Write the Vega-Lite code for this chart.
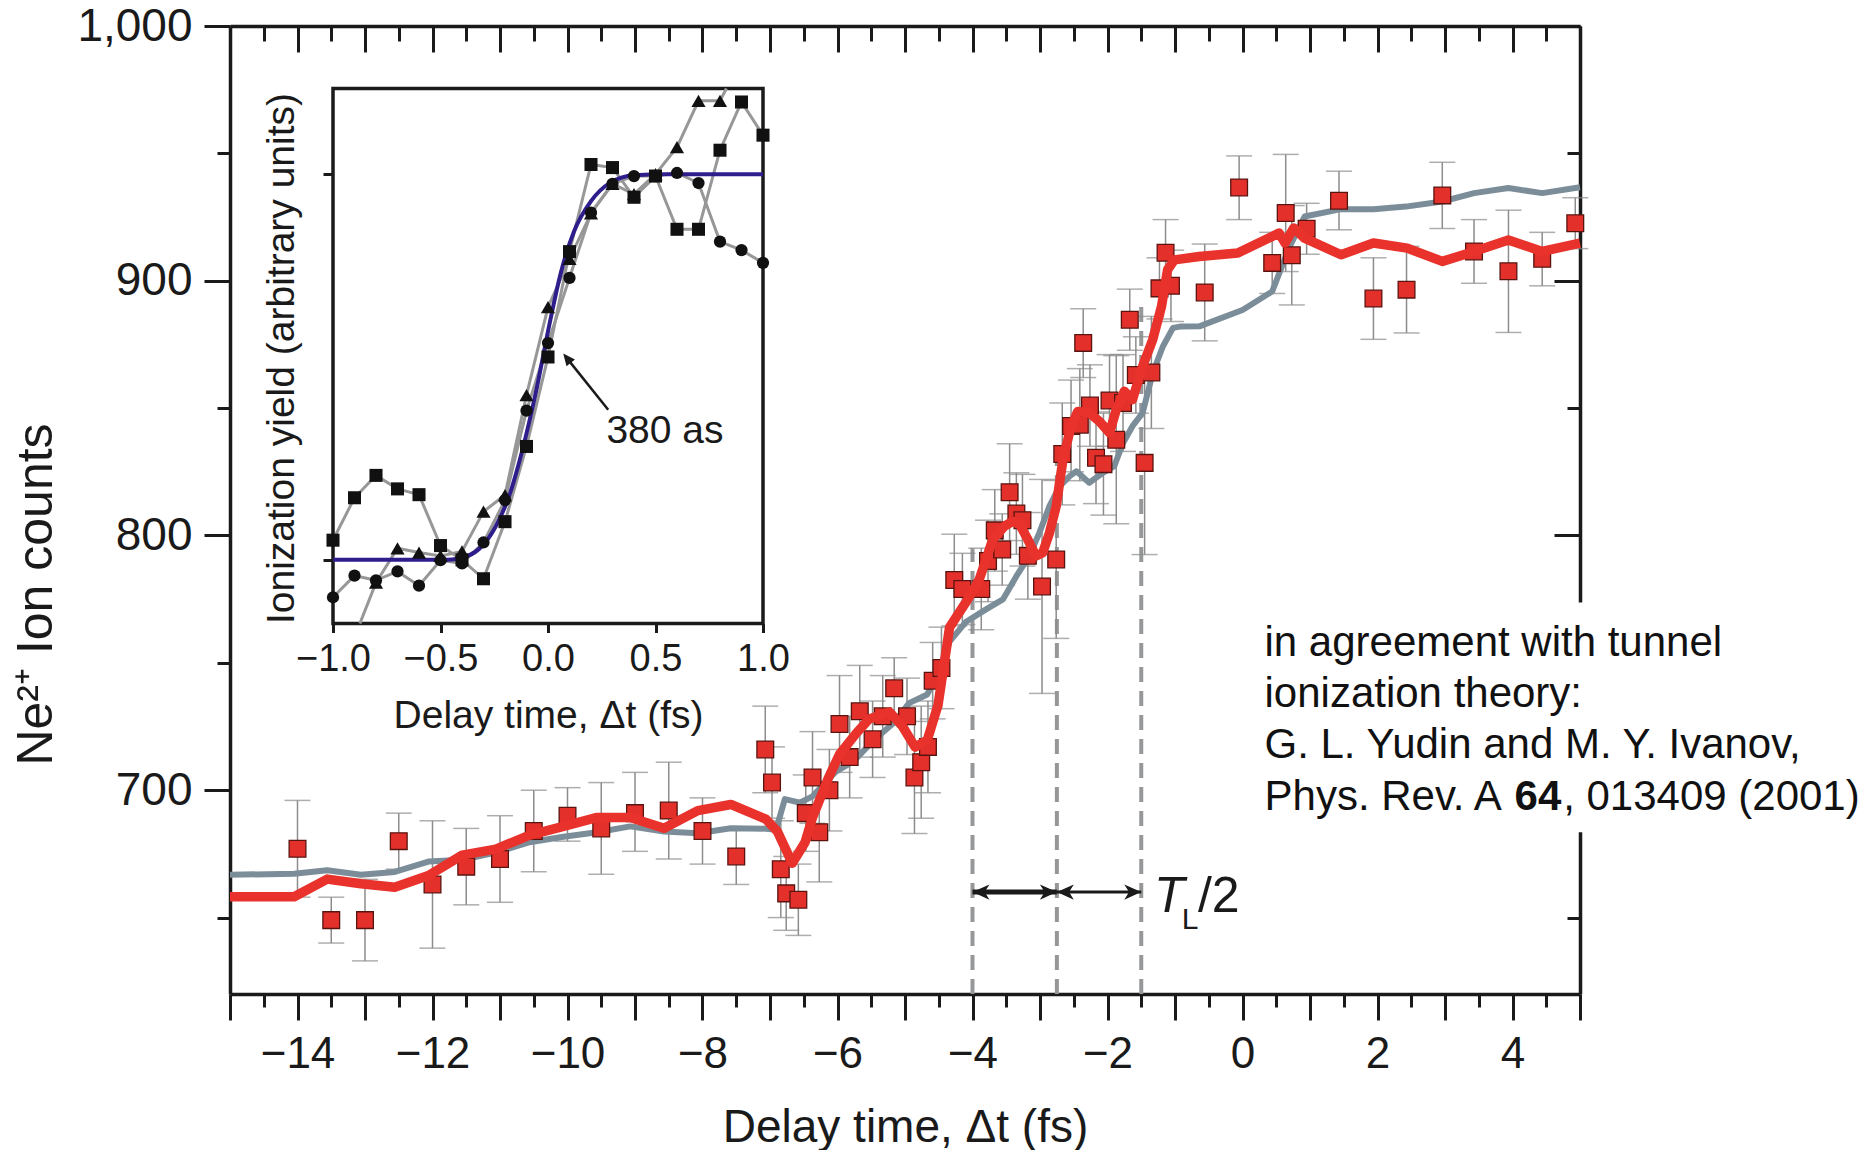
{
  "$schema": "https://vega.github.io/schema/vega-lite/v6.json",
  "width": 1350,
  "height": 968,
  "autosize": {"type": "none"},
  "padding": {"left": 230, "top": 26, "right": 293, "bottom": 156},
  "background": "white",
  "config": {
    "view": {"stroke": null},
    "font": "Liberation Sans",
    "axis": {"grid": false, "labelFont": "Liberation Sans", "titleFont": "Liberation Sans", "labelColor": "#1a1a1a", "titleColor": "#1a1a1a", "titleFontWeight": "normal", "tickColor": "#1a1a1a", "domainColor": "#1a1a1a", "labelOverlap": false, "labelFlush": false, "labelBound": false}
  },
  "datasets": {
    "pts": [
      {"x": -14, "y": 677, "lo": 658, "hi": 696},
      {"x": -13.5, "y": 649, "lo": 640, "hi": 658},
      {"x": -13, "y": 649, "lo": 633, "hi": 665},
      {"x": -12.5, "y": 680, "lo": 669, "hi": 691},
      {"x": -12, "y": 663, "lo": 638, "hi": 688},
      {"x": -11.5, "y": 670, "lo": 655, "hi": 685},
      {"x": -11, "y": 673, "lo": 656, "hi": 690},
      {"x": -10.5, "y": 684, "lo": 668, "hi": 700},
      {"x": -10, "y": 690, "lo": 680, "hi": 701},
      {"x": -9.5, "y": 685, "lo": 667, "hi": 703},
      {"x": -9, "y": 691, "lo": 676, "hi": 707},
      {"x": -8.5, "y": 692, "lo": 673, "hi": 711},
      {"x": -8, "y": 684, "lo": 671, "hi": 697},
      {"x": -7.5, "y": 674, "lo": 663, "hi": 685},
      {"x": -7.07, "y": 716, "lo": 699, "hi": 733},
      {"x": -6.97, "y": 703, "lo": 689, "hi": 717},
      {"x": -6.84, "y": 669, "lo": 650, "hi": 688},
      {"x": -6.76, "y": 659.5, "lo": 645, "hi": 674},
      {"x": -6.58, "y": 657, "lo": 643, "hi": 671},
      {"x": -6.47, "y": 691, "lo": 676, "hi": 706},
      {"x": -6.37, "y": 705, "lo": 687, "hi": 723},
      {"x": -6.27, "y": 683.5, "lo": 664, "hi": 703},
      {"x": -6.12, "y": 700, "lo": 684, "hi": 716},
      {"x": -5.97, "y": 726, "lo": 707, "hi": 745},
      {"x": -5.82, "y": 713, "lo": 697, "hi": 729},
      {"x": -5.67, "y": 731, "lo": 713, "hi": 749},
      {"x": -5.48, "y": 720, "lo": 705, "hi": 735},
      {"x": -5.33, "y": 729, "lo": 713, "hi": 745},
      {"x": -5.16, "y": 740, "lo": 728, "hi": 752},
      {"x": -4.97, "y": 729, "lo": 714, "hi": 744},
      {"x": -4.86, "y": 705, "lo": 683, "hi": 727},
      {"x": -4.76, "y": 711, "lo": 689, "hi": 733},
      {"x": -4.66, "y": 717, "lo": 699, "hi": 735},
      {"x": -4.59, "y": 743, "lo": 728, "hi": 758},
      {"x": -4.46, "y": 748, "lo": 732, "hi": 764},
      {"x": -4.27, "y": 782.5, "lo": 764.5, "hi": 800.5},
      {"x": -4.15, "y": 779, "lo": 765, "hi": 793},
      {"x": -3.87, "y": 779, "lo": 763, "hi": 795},
      {"x": -3.77, "y": 790, "lo": 774, "hi": 806},
      {"x": -3.67, "y": 802, "lo": 786, "hi": 818},
      {"x": -3.56, "y": 794.5, "lo": 780.5, "hi": 808.5},
      {"x": -3.45, "y": 817, "lo": 798, "hi": 836},
      {"x": -3.35, "y": 808.6, "lo": 792.6, "hi": 824.6},
      {"x": -3.26, "y": 806, "lo": 788, "hi": 824},
      {"x": -3.18, "y": 792, "lo": 775, "hi": 809},
      {"x": -2.97, "y": 780, "lo": 738, "hi": 822},
      {"x": -2.76, "y": 790.6, "lo": 759.6, "hi": 821.6},
      {"x": -2.67, "y": 832, "lo": 812, "hi": 852},
      {"x": -2.54, "y": 843, "lo": 825, "hi": 861},
      {"x": -2.41, "y": 843.5, "lo": 821.5, "hi": 865.5},
      {"x": -2.36, "y": 875.6, "lo": 862, "hi": 889},
      {"x": -2.26, "y": 851, "lo": 835, "hi": 867},
      {"x": -2.17, "y": 830.5, "lo": 812.5, "hi": 848.5},
      {"x": -2.06, "y": 828, "lo": 808, "hi": 848},
      {"x": -1.97, "y": 853, "lo": 835, "hi": 871},
      {"x": -1.87, "y": 837.6, "lo": 804.6, "hi": 870.6},
      {"x": -1.77, "y": 852, "lo": 833, "hi": 871},
      {"x": -1.67, "y": 884.7, "lo": 872.7, "hi": 896.7},
      {"x": -1.58, "y": 863, "lo": 848, "hi": 878},
      {"x": -1.45, "y": 828.5, "lo": 792.5, "hi": 864.5},
      {"x": -1.35, "y": 864, "lo": 842, "hi": 886},
      {"x": -1.23, "y": 897, "lo": 885, "hi": 909},
      {"x": -1.14, "y": 911, "lo": 898, "hi": 924},
      {"x": -1.06, "y": 898, "lo": 884, "hi": 912},
      {"x": -0.56, "y": 895.4, "lo": 876.4, "hi": 914.4},
      {"x": -0.05, "y": 936.6, "lo": 924, "hi": 949},
      {"x": 0.44, "y": 907, "lo": 895, "hi": 919},
      {"x": 0.64, "y": 926.6, "lo": 903.6, "hi": 949.6},
      {"x": 0.73, "y": 910, "lo": 890.5, "hi": 929.5},
      {"x": 0.95, "y": 920.4, "lo": 910.4, "hi": 930.4},
      {"x": 1.43, "y": 931.4, "lo": 920, "hi": 943},
      {"x": 1.94, "y": 893, "lo": 877, "hi": 909},
      {"x": 2.43, "y": 896.5, "lo": 879.5, "hi": 913.5},
      {"x": 2.96, "y": 933.5, "lo": 920.5, "hi": 946.5},
      {"x": 3.43, "y": 911.5, "lo": 899, "hi": 924},
      {"x": 3.94, "y": 903.7, "lo": 879.7, "hi": 927.7},
      {"x": 4.44, "y": 908.6, "lo": 898, "hi": 919},
      {"x": 4.93, "y": 922.6, "lo": 912.6, "hi": 932.6}
    ],
    "red": [
      {"x": -15, "y": 658.2}, {"x": -14.05, "y": 658.2}, {"x": -13.56, "y": 665.1}, {"x": -13.06, "y": 663.3},
      {"x": -12.56, "y": 661.9}, {"x": -12.06, "y": 666.5}, {"x": -11.56, "y": 674.5}, {"x": -11.06, "y": 676.9},
      {"x": -10.56, "y": 682.4}, {"x": -10.06, "y": 685.8}, {"x": -9.56, "y": 689.3}, {"x": -9.07, "y": 689.3},
      {"x": -8.57, "y": 685.1}, {"x": -8.07, "y": 692}, {"x": -7.58, "y": 694.4}, {"x": -7.06, "y": 688.6},
      {"x": -6.89, "y": 683.8}, {"x": -6.67, "y": 671.3}, {"x": -6.48, "y": 679.6}, {"x": -6.37, "y": 689.3},
      {"x": -6.14, "y": 704.5}, {"x": -5.97, "y": 714.1}, {"x": -5.72, "y": 722.4}, {"x": -5.53, "y": 728},
      {"x": -5.23, "y": 730.7}, {"x": -5.04, "y": 725.2}, {"x": -4.85, "y": 716.9}, {"x": -4.67, "y": 719.7},
      {"x": -4.51, "y": 733.5}, {"x": -4.34, "y": 763.9}, {"x": -4.07, "y": 774.9}, {"x": -3.9, "y": 782.7},
      {"x": -3.7, "y": 798.4}, {"x": -3.53, "y": 803.6}, {"x": -3.4, "y": 805.6}, {"x": -3.3, "y": 804.3},
      {"x": -3.18, "y": 798.4}, {"x": -3.06, "y": 791.9}, {"x": -2.96, "y": 793.2}, {"x": -2.86, "y": 801},
      {"x": -2.76, "y": 811.5}, {"x": -2.66, "y": 829.8}, {"x": -2.54, "y": 842.9}, {"x": -2.44, "y": 848.7},
      {"x": -2.27, "y": 848.1}, {"x": -2.12, "y": 844.8}, {"x": -1.97, "y": 840.3}, {"x": -1.87, "y": 849.4},
      {"x": -1.75, "y": 856.6}, {"x": -1.63, "y": 853.3}, {"x": -1.48, "y": 866.4}, {"x": -1.33, "y": 876.9},
      {"x": -1.2, "y": 889.9}, {"x": -1.11, "y": 904.3}, {"x": -1.01, "y": 908.2}, {"x": -0.64, "y": 909.5},
      {"x": -0.07, "y": 910.9}, {"x": 0.54, "y": 918.7}, {"x": 0.63, "y": 914.8}, {"x": 0.76, "y": 920.7},
      {"x": 0.92, "y": 916.7}, {"x": 1.46, "y": 910.2}, {"x": 1.94, "y": 914.8}, {"x": 2.44, "y": 912.8},
      {"x": 2.96, "y": 907.6}, {"x": 3.43, "y": 911.5}, {"x": 3.94, "y": 916}, {"x": 4.44, "y": 911.5},
      {"x": 5.0, "y": 914.8}
    ],
    "gray": [
      {"x": -15, "y": 666.8}, {"x": -14.05, "y": 667.2}, {"x": -13.56, "y": 668.6}, {"x": -13.06, "y": 666.8},
      {"x": -12.56, "y": 667.9}, {"x": -12.06, "y": 672}, {"x": -11.56, "y": 672.7}, {"x": -11.06, "y": 675.5},
      {"x": -10.56, "y": 679.6}, {"x": -10.06, "y": 681.7}, {"x": -9.56, "y": 683.5}, {"x": -9.07, "y": 685.8},
      {"x": -8.57, "y": 683.8}, {"x": -8.07, "y": 683.1}, {"x": -7.58, "y": 685.1}, {"x": -7.06, "y": 684.9},
      {"x": -6.91, "y": 684.5}, {"x": -6.78, "y": 696.5}, {"x": -6.56, "y": 695.1}, {"x": -6.37, "y": 697.6},
      {"x": -6.03, "y": 707.2}, {"x": -5.76, "y": 711.4}, {"x": -5.46, "y": 719.7}, {"x": -5.16, "y": 726.6},
      {"x": -4.94, "y": 734.2}, {"x": -4.67, "y": 737.6}, {"x": -4.51, "y": 745.9}, {"x": -4.34, "y": 758.3},
      {"x": -4.1, "y": 766}, {"x": -3.8, "y": 771}, {"x": -3.55, "y": 774.9}, {"x": -3.35, "y": 784},
      {"x": -3.16, "y": 791.9}, {"x": -3.01, "y": 801}, {"x": -2.86, "y": 811.5}, {"x": -2.71, "y": 819.3},
      {"x": -2.56, "y": 823.3}, {"x": -2.46, "y": 825.2}, {"x": -2.27, "y": 820.7}, {"x": -2.07, "y": 824.6},
      {"x": -1.9, "y": 827.2}, {"x": -1.77, "y": 836.3}, {"x": -1.63, "y": 842.9}, {"x": -1.48, "y": 848.1},
      {"x": -1.33, "y": 863.8}, {"x": -1.18, "y": 874.2}, {"x": -1.03, "y": 881.5}, {"x": -0.93, "y": 882},
      {"x": -0.64, "y": 882.1}, {"x": 0.0, "y": 888.5}, {"x": 0.44, "y": 895.8}, {"x": 0.7, "y": 913.5},
      {"x": 0.92, "y": 925.2}, {"x": 1.46, "y": 928.1}, {"x": 1.94, "y": 928.1}, {"x": 2.42, "y": 929.1},
      {"x": 2.96, "y": 931.1}, {"x": 3.43, "y": 934.4}, {"x": 3.94, "y": 936.4}, {"x": 4.44, "y": 934.4},
      {"x": 5.0, "y": 936.7}
    ],
    "dash": [
      {"x": -4, "y0": 620, "y1": 795},
      {"x": -2.75, "y0": 620, "y1": 835},
      {"x": -1.5, "y0": 620, "y1": 890}
    ],
    "arrows": [
      {"a": 1, "x0": -4, "x1": -2.75, "y": 660},
      {"a": 2, "x0": -2.75, "x1": -1.5, "y": 660}
    ],
    "heads": [
      {"x": -4, "y": 660, "d": "L"},
      {"x": -2.75, "y": 660, "d": "R"},
      {"x": -2.75, "y": 660, "d": "L"},
      {"x": -1.5, "y": 660, "d": "R"}
    ],
    "box": [{"x0": 0.18, "x1": 9.5, "y0": 683.5, "y1": 773.7}],
    "note": [
      {"t": "in agreement with tunnel", "x": 0.326, "y": 752.7},
      {"t": "ionization theory:", "x": 0.326, "y": 732.5},
      {"t": "G. L. Yudin and M. Y. Ivanov,", "x": 0.326, "y": 712.5},
      {"t": "Phys. Rev. A", "x": 0.326, "y": 692.3},
      {"t": ", 013409 (2001)", "x": 4.75, "y": 692.3}
    ],
    "bold": [{"t": "64", "x": 4.03, "y": 692.3}],
    "tbig": [{"t": "/2", "x": -0.66, "y": 652.2}],
    "tital": [{"t": "T", "x": -1.31, "y": 652.2}],
    "tsub": [{"t": "L", "x": -0.9, "y": 645.5}],
    "iframe": [{"x0": -1, "x1": 1, "y0": -0.165, "y1": 1.222}],
    "inset": [
      {"s": "sq", "x": -1.0, "y": 0.051}, {"s": "sq", "x": -0.9, "y": 0.161}, {"s": "sq", "x": -0.8, "y": 0.219},
      {"s": "sq", "x": -0.7, "y": 0.184}, {"s": "sq", "x": -0.6, "y": 0.169}, {"s": "sq", "x": -0.5, "y": 0.037},
      {"s": "sq", "x": -0.4, "y": 0.0}, {"s": "sq", "x": -0.3, "y": -0.049}, {"s": "sq", "x": -0.2, "y": 0.099},
      {"s": "sq", "x": -0.1, "y": 0.294}, {"s": "sq", "x": 0.0, "y": 0.526}, {"s": "sq", "x": 0.1, "y": 0.799},
      {"s": "sq", "x": 0.2, "y": 1.025}, {"s": "sq", "x": 0.3, "y": 1.017}, {"s": "sq", "x": 0.4, "y": 0.94},
      {"s": "sq", "x": 0.5, "y": 0.995}, {"s": "sq", "x": 0.6, "y": 0.857}, {"s": "sq", "x": 0.7, "y": 0.857},
      {"s": "sq", "x": 0.8, "y": 1.062}, {"s": "sq", "x": 0.9, "y": 1.187}, {"s": "sq", "x": 1.0, "y": 1.101},
      {"s": "tri", "x": -0.875, "y": -0.165, "edge": true},
      {"s": "tri", "x": -0.8, "y": -0.059}, {"s": "tri", "x": -0.7, "y": 0.03}, {"s": "tri", "x": -0.6, "y": 0.019},
      {"s": "tri", "x": -0.5, "y": 0.01}, {"s": "tri", "x": -0.4, "y": 0.022}, {"s": "tri", "x": -0.3, "y": 0.125},
      {"s": "tri", "x": -0.2, "y": 0.168}, {"s": "tri", "x": -0.1, "y": 0.427}, {"s": "tri", "x": 0.0, "y": 0.655},
      {"s": "tri", "x": 0.1, "y": 0.78}, {"s": "tri", "x": 0.2, "y": 0.898}, {"s": "tri", "x": 0.3, "y": 0.975},
      {"s": "tri", "x": 0.4, "y": 0.948}, {"s": "tri", "x": 0.5, "y": 1.0}, {"s": "tri", "x": 0.6, "y": 1.07},
      {"s": "tri", "x": 0.7, "y": 1.19}, {"s": "tri", "x": 0.8, "y": 1.19},
      {"s": "tri", "x": 0.83, "y": 1.222, "edge": true},
      {"s": "cir", "x": -1.0, "y": -0.097}, {"s": "cir", "x": -0.9, "y": -0.041}, {"s": "cir", "x": -0.8, "y": -0.053},
      {"s": "cir", "x": -0.7, "y": -0.03}, {"s": "cir", "x": -0.6, "y": -0.067}, {"s": "cir", "x": -0.5, "y": -0.001},
      {"s": "cir", "x": -0.4, "y": -0.009}, {"s": "cir", "x": -0.3, "y": 0.045}, {"s": "cir", "x": -0.2, "y": 0.155},
      {"s": "cir", "x": -0.1, "y": 0.387}, {"s": "cir", "x": 0.0, "y": 0.562}, {"s": "cir", "x": 0.1, "y": 0.731},
      {"s": "cir", "x": 0.2, "y": 0.9}, {"s": "cir", "x": 0.3, "y": 0.975}, {"s": "cir", "x": 0.4, "y": 0.995},
      {"s": "cir", "x": 0.5, "y": 0.995}, {"s": "cir", "x": 0.6, "y": 1.003}, {"s": "cir", "x": 0.7, "y": 0.977},
      {"s": "cir", "x": 0.8, "y": 0.825}, {"s": "cir", "x": 0.9, "y": 0.803}, {"s": "cir", "x": 1.0, "y": 0.77}
    ],
    "fit": [
      {"x": -1.0, "y": 0}, {"x": -0.47, "y": 0}, {"x": -0.37, "y": 0.011}, {"x": -0.31, "y": 0.034},
      {"x": -0.244, "y": 0.086}, {"x": -0.18, "y": 0.167}, {"x": -0.12, "y": 0.283}, {"x": -0.057, "y": 0.433},
      {"x": 0.005, "y": 0.606}, {"x": 0.06, "y": 0.745}, {"x": 0.12, "y": 0.85}, {"x": 0.2, "y": 0.93},
      {"x": 0.29, "y": 0.978}, {"x": 0.4, "y": 0.997}, {"x": 0.55, "y": 1.0}, {"x": 1.0, "y": 1.0}
    ],
    "iarrow": [{"x0": 0.28, "y0": 0.389, "x1": 0.085, "y1": 0.525}],
    "ihead": [{"x": 0.071, "y": 0.535}],
    "itext": [{"t": "380 as", "x": 0.544, "y": 0.302}]
  },
  "layer": [
    {
      "data": {"name": "dash"},
      "mark": {"type": "rule", "color": "#959799", "strokeWidth": 4, "strokeDash": [15, 9]},
      "encoding": {
        "x": {"field": "x", "type": "quantitative", "scale": {"domain": [-15, 5], "nice": false, "zero": false}, "axis": null},
        "y": {"field": "y0", "type": "quantitative", "scale": {"domain": [620, 1000], "nice": false, "zero": false}, "axis": null},
        "y2": {"field": "y1"}
      }
    },
    {
      "data": {"name": "pts"},
      "mark": {"type": "rule", "color": "#8c8c8c", "strokeWidth": 1.5},
      "encoding": {
        "x": {"field": "x", "type": "quantitative", "scale": {"domain": [-15, 5], "nice": false, "zero": false},
          "axis": {"orient": "bottom", "values": [-15,-14,-13,-12,-11,-10,-9,-8,-7,-6,-5,-4,-3,-2,-1,0,1,2,3,4,5], "format": "d",
            "labelExpr": "datum.value % 2 === 0 ? datum.label : ''", "tickSize": 26, "tickWidth": 3, "domain": true, "domainWidth": 3.5,
            "labelFontSize": 44, "labelPadding": 12, "title": "Delay time, Δt (fs)", "titleFontSize": 46, "titleY": 147, "titleBaseline": "alphabetic"}},
        "y": {"field": "lo", "type": "quantitative", "scale": {"domain": [620, 1000], "nice": false, "zero": false},
          "axis": {"orient": "left", "values": [700, 800, 900, 1000], "format": ",d", "tickSize": 26, "tickWidth": 3, "domain": true, "domainWidth": 3.5,
            "labelFontSize": 46, "labelPadding": 12, "title": "Ne²⁺ Ion counts", "titleFontSize": 50, "titleX": -194, "titleY": 568,
            "titleAngle": 270, "titleAlign": "center", "titleBaseline": "middle"}},
        "y2": {"field": "hi"}
      }
    },
    {
      "data": {"name": "pts"},
      "mark": {"type": "tick", "orient": "horizontal", "color": "#8c8c8c", "size": 26, "thickness": 1.5},
      "encoding": {
        "x": {"field": "x", "type": "quantitative", "scale": {"domain": [-15, 5], "nice": false, "zero": false},
          "axis": {"orient": "bottom", "values": [-14.5,-13.5,-12.5,-11.5,-10.5,-9.5,-8.5,-7.5,-6.5,-5.5,-4.5,-3.5,-2.5,-1.5,-0.5,0.5,1.5,2.5,3.5,4.5],
            "tickSize": 13, "tickWidth": 3, "domain": false, "labels": false, "title": null}},
        "y": {"field": "lo", "type": "quantitative", "scale": {"domain": [620, 1000], "nice": false, "zero": false},
          "axis": {"orient": "left", "values": [650, 750, 850, 950], "tickSize": 13, "tickWidth": 3, "domain": false, "labels": false, "title": null}}
      }
    },
    {
      "data": {"name": "pts"},
      "mark": {"type": "tick", "orient": "horizontal", "color": "#8c8c8c", "size": 26, "thickness": 1.5},
      "encoding": {
        "x": {"field": "x", "type": "quantitative", "scale": {"domain": [-15, 5], "nice": false, "zero": false},
          "axis": {"orient": "bottom", "offset": -968, "values": [-15,-14,-13,-12,-11,-10,-9,-8,-7,-6,-5,-4,-3,-2,-1,0,1,2,3,4,5],
            "tickSize": 26, "tickWidth": 3, "domain": true, "domainWidth": 3.5, "labels": false, "title": null}},
        "y": {"field": "hi", "type": "quantitative", "scale": {"domain": [620, 1000], "nice": false, "zero": false},
          "axis": {"orient": "left", "offset": -1350, "values": [700, 800, 900, 1000], "tickSize": 26, "tickWidth": 3, "domain": true, "domainWidth": 3.5, "labels": false, "title": null}}
      }
    },
    {
      "data": {"name": "gray"},
      "mark": {"type": "line", "color": "#7b8d99", "strokeWidth": 6, "strokeJoin": "round"},
      "encoding": {
        "x": {"field": "x", "type": "quantitative", "scale": {"domain": [-15, 5], "nice": false, "zero": false},
          "axis": {"orient": "bottom", "offset": -968, "values": [-14.5,-13.5,-12.5,-11.5,-10.5,-9.5,-8.5,-7.5,-6.5,-5.5,-4.5,-3.5,-2.5,-1.5,-0.5,0.5,1.5,2.5,3.5,4.5],
            "tickSize": 15, "tickWidth": 3, "domain": false, "labels": false, "title": null}},
        "y": {"field": "y", "type": "quantitative", "scale": {"domain": [620, 1000], "nice": false, "zero": false},
          "axis": {"orient": "left", "offset": -1350, "values": [650, 750, 850, 950], "tickSize": 13, "tickWidth": 3, "domain": false, "labels": false, "title": null}}
      }
    },
    {
      "data": {"name": "pts"},
      "mark": {"type": "point", "shape": "square", "size": 280, "filled": true, "fill": "#e3302a", "stroke": "#5a1410", "strokeWidth": 1.3, "opacity": 1},
      "encoding": {
        "x": {"field": "x", "type": "quantitative", "scale": {"domain": [-15, 5], "nice": false, "zero": false}, "axis": null},
        "y": {"field": "y", "type": "quantitative", "scale": {"domain": [620, 1000], "nice": false, "zero": false}, "axis": null}
      }
    },
    {
      "data": {"name": "red"},
      "mark": {"type": "line", "color": "#e8322b", "strokeWidth": 9.5, "strokeJoin": "round"},
      "encoding": {
        "x": {"field": "x", "type": "quantitative", "scale": {"domain": [-15, 5], "nice": false, "zero": false}, "axis": null},
        "y": {"field": "y", "type": "quantitative", "scale": {"domain": [620, 1000], "nice": false, "zero": false}, "axis": null}
      }
    },
    {
      "data": {"name": "arrows"},
      "transform": [{"filter": "datum.a == 1"}],
      "mark": {"type": "rule", "color": "#1a1a1a", "strokeWidth": 5},
      "encoding": {
        "x": {"field": "x0", "type": "quantitative", "scale": {"domain": [-15, 5], "nice": false, "zero": false}, "axis": null},
        "x2": {"field": "x1"},
        "y": {"field": "y", "type": "quantitative", "scale": {"domain": [620, 1000], "nice": false, "zero": false}, "axis": null}
      }
    },
    {
      "data": {"name": "arrows"},
      "transform": [{"filter": "datum.a == 2"}],
      "mark": {"type": "rule", "color": "#1a1a1a", "strokeWidth": 3},
      "encoding": {
        "x": {"field": "x0", "type": "quantitative", "scale": {"domain": [-15, 5], "nice": false, "zero": false}, "axis": null},
        "x2": {"field": "x1"},
        "y": {"field": "y", "type": "quantitative", "scale": {"domain": [620, 1000], "nice": false, "zero": false}, "axis": null}
      }
    },
    {
      "data": {"name": "heads"},
      "transform": [{"filter": "datum.d == 'R'"}],
      "mark": {"type": "point", "shape": "M0,0 L-1,-0.45 L-0.72,0 L-1,0.45 Z", "size": 1150, "filled": true, "color": "#1a1a1a", "opacity": 1, "angle": 0},
      "encoding": {
        "x": {"field": "x", "type": "quantitative", "scale": {"domain": [-15, 5], "nice": false, "zero": false}, "axis": null},
        "y": {"field": "y", "type": "quantitative", "scale": {"domain": [620, 1000], "nice": false, "zero": false}, "axis": null}
      }
    },
    {
      "data": {"name": "heads"},
      "transform": [{"filter": "datum.d == 'L'"}],
      "mark": {"type": "point", "shape": "M0,0 L-1,-0.45 L-0.72,0 L-1,0.45 Z", "size": 1150, "filled": true, "color": "#1a1a1a", "opacity": 1, "angle": 180},
      "encoding": {
        "x": {"field": "x", "type": "quantitative", "scale": {"domain": [-15, 5], "nice": false, "zero": false}, "axis": null},
        "y": {"field": "y", "type": "quantitative", "scale": {"domain": [620, 1000], "nice": false, "zero": false}, "axis": null}
      }
    },
    {
      "data": {"name": "tital"},
      "mark": {"type": "text", "fontSize": 50, "fontStyle": "italic", "align": "left", "baseline": "alphabetic", "color": "#1a1a1a", "font": "Liberation Sans"},
      "encoding": {
        "x": {"field": "x", "type": "quantitative", "scale": {"domain": [-15, 5], "nice": false, "zero": false}, "axis": null},
        "y": {"field": "y", "type": "quantitative", "scale": {"domain": [620, 1000], "nice": false, "zero": false}, "axis": null},
        "text": {"field": "t"}
      }
    },
    {
      "data": {"name": "tsub"},
      "mark": {"type": "text", "fontSize": 30, "align": "left", "baseline": "alphabetic", "color": "#1a1a1a", "font": "Liberation Sans"},
      "encoding": {
        "x": {"field": "x", "type": "quantitative", "scale": {"domain": [-15, 5], "nice": false, "zero": false}, "axis": null},
        "y": {"field": "y", "type": "quantitative", "scale": {"domain": [620, 1000], "nice": false, "zero": false}, "axis": null},
        "text": {"field": "t"}
      }
    },
    {
      "data": {"name": "tbig"},
      "mark": {"type": "text", "fontSize": 50, "align": "left", "baseline": "alphabetic", "color": "#1a1a1a", "font": "Liberation Sans"},
      "encoding": {
        "x": {"field": "x", "type": "quantitative", "scale": {"domain": [-15, 5], "nice": false, "zero": false}, "axis": null},
        "y": {"field": "y", "type": "quantitative", "scale": {"domain": [620, 1000], "nice": false, "zero": false}, "axis": null},
        "text": {"field": "t"}
      }
    },
    {
      "data": {"name": "box"},
      "mark": {"type": "rect", "color": "white", "opacity": 1},
      "encoding": {
        "x": {"field": "x0", "type": "quantitative", "scale": {"domain": [-15, 5], "nice": false, "zero": false}, "axis": null},
        "x2": {"field": "x1"},
        "y": {"field": "y0", "type": "quantitative", "scale": {"domain": [620, 1000], "nice": false, "zero": false}, "axis": null},
        "y2": {"field": "y1"}
      }
    },
    {
      "data": {"name": "note"},
      "mark": {"type": "text", "fontSize": 42, "align": "left", "baseline": "alphabetic", "color": "#111111", "font": "Liberation Sans"},
      "encoding": {
        "x": {"field": "x", "type": "quantitative", "scale": {"domain": [-15, 5], "nice": false, "zero": false}, "axis": null},
        "y": {"field": "y", "type": "quantitative", "scale": {"domain": [620, 1000], "nice": false, "zero": false}, "axis": null},
        "text": {"field": "t"}
      }
    },
    {
      "data": {"name": "bold"},
      "mark": {"type": "text", "fontSize": 42, "fontWeight": "bold", "align": "left", "baseline": "alphabetic", "color": "#111111", "font": "Liberation Sans"},
      "encoding": {
        "x": {"field": "x", "type": "quantitative", "scale": {"domain": [-15, 5], "nice": false, "zero": false}, "axis": null},
        "y": {"field": "y", "type": "quantitative", "scale": {"domain": [620, 1000], "nice": false, "zero": false}, "axis": null},
        "text": {"field": "t"}
      }
    },
    {
      "data": {"name": "iframe"},
      "mark": {"type": "rect", "fill": "white", "stroke": "#1a1a1a", "strokeWidth": 3.5, "opacity": 1},
      "encoding": {
        "x": {"field": "x0", "type": "quantitative", "scale": {"domain": [-1, 1], "range": [103, 533], "nice": false, "zero": false},
          "axis": {"orient": "bottom", "offset": -370.5, "values": [-1, -0.5, 0, 0.5, 1], "format": ".1f", "tickSize": 9, "tickWidth": 3, "domain": false,
            "labelFontSize": 38, "labelPadding": 8, "title": "Delay time, Δt (fs)", "titleFontSize": 39, "titleY": 104, "titleBaseline": "alphabetic"}},
        "x2": {"field": "x1"},
        "y": {"field": "y0", "type": "quantitative", "scale": {"domain": [-0.165, 1.222], "range": [597.5, 62.5], "nice": false, "zero": false},
          "axis": {"orient": "left", "offset": -103, "values": [0, 1], "tickSize": 10, "tickWidth": 3, "domain": false, "labels": false,
            "title": "Ionization yield (arbitrary units)", "titleFontSize": 39, "titleX": -52, "titleY": 332, "titleAngle": 270, "titleAlign": "center", "titleBaseline": "middle"}},
        "y2": {"field": "y1"}
      }
    },
    {
      "data": {"name": "inset"},
      "mark": {"type": "line", "color": "#979797", "strokeWidth": 3},
      "encoding": {
        "x": {"field": "x", "type": "quantitative", "scale": {"domain": [-1, 1], "range": [103, 533], "nice": false, "zero": false}, "axis": null},
        "y": {"field": "y", "type": "quantitative", "scale": {"domain": [-0.165, 1.222], "range": [597.5, 62.5], "nice": false, "zero": false}, "axis": null},
        "detail": {"field": "s", "type": "nominal"}
      }
    },
    {
      "data": {"name": "fit"},
      "mark": {"type": "line", "color": "#2d1e8c", "strokeWidth": 4, "interpolate": "monotone"},
      "encoding": {
        "x": {"field": "x", "type": "quantitative", "scale": {"domain": [-1, 1], "range": [103, 533], "nice": false, "zero": false}, "axis": null},
        "y": {"field": "y", "type": "quantitative", "scale": {"domain": [-0.165, 1.222], "range": [597.5, 62.5], "nice": false, "zero": false}, "axis": null}
      }
    },
    {
      "data": {"name": "inset"},
      "transform": [{"filter": "datum.s == 'sq' && !datum.edge"}],
      "mark": {"type": "point", "shape": "square", "size": 170, "filled": true, "color": "#111111", "opacity": 1},
      "encoding": {
        "x": {"field": "x", "type": "quantitative", "scale": {"domain": [-1, 1], "range": [103, 533], "nice": false, "zero": false}, "axis": null},
        "y": {"field": "y", "type": "quantitative", "scale": {"domain": [-0.165, 1.222], "range": [597.5, 62.5], "nice": false, "zero": false}, "axis": null}
      }
    },
    {
      "data": {"name": "inset"},
      "transform": [{"filter": "datum.s == 'tri' && !datum.edge"}],
      "mark": {"type": "point", "shape": "triangle-up", "size": 200, "filled": true, "color": "#111111", "opacity": 1},
      "encoding": {
        "x": {"field": "x", "type": "quantitative", "scale": {"domain": [-1, 1], "range": [103, 533], "nice": false, "zero": false}, "axis": null},
        "y": {"field": "y", "type": "quantitative", "scale": {"domain": [-0.165, 1.222], "range": [597.5, 62.5], "nice": false, "zero": false}, "axis": null}
      }
    },
    {
      "data": {"name": "inset"},
      "transform": [{"filter": "datum.s == 'cir' && !datum.edge"}],
      "mark": {"type": "point", "shape": "circle", "size": 150, "filled": true, "color": "#111111", "opacity": 1},
      "encoding": {
        "x": {"field": "x", "type": "quantitative", "scale": {"domain": [-1, 1], "range": [103, 533], "nice": false, "zero": false}, "axis": null},
        "y": {"field": "y", "type": "quantitative", "scale": {"domain": [-0.165, 1.222], "range": [597.5, 62.5], "nice": false, "zero": false}, "axis": null}
      }
    },
    {
      "data": {"name": "iarrow"},
      "mark": {"type": "rule", "color": "#1a1a1a", "strokeWidth": 2.5},
      "encoding": {
        "x": {"field": "x0", "type": "quantitative", "scale": {"domain": [-1, 1], "range": [103, 533], "nice": false, "zero": false}, "axis": null},
        "x2": {"field": "x1"},
        "y": {"field": "y0", "type": "quantitative", "scale": {"domain": [-0.165, 1.222], "range": [597.5, 62.5], "nice": false, "zero": false}, "axis": null},
        "y2": {"field": "y1"}
      }
    },
    {
      "data": {"name": "ihead"},
      "mark": {"type": "point", "shape": "M0,0 L-1,-0.45 L-1,0.45 Z", "size": 576, "filled": true, "color": "#1a1a1a", "opacity": 1, "angle": 231.6},
      "encoding": {
        "x": {"field": "x", "type": "quantitative", "scale": {"domain": [-1, 1], "range": [103, 533], "nice": false, "zero": false}, "axis": null},
        "y": {"field": "y", "type": "quantitative", "scale": {"domain": [-0.165, 1.222], "range": [597.5, 62.5], "nice": false, "zero": false}, "axis": null}
      }
    },
    {
      "data": {"name": "itext"},
      "mark": {"type": "text", "fontSize": 39, "align": "center", "baseline": "alphabetic", "color": "#1a1a1a", "font": "Liberation Sans"},
      "encoding": {
        "x": {"field": "x", "type": "quantitative", "scale": {"domain": [-1, 1], "range": [103, 533], "nice": false, "zero": false}, "axis": null},
        "y": {"field": "y", "type": "quantitative", "scale": {"domain": [-0.165, 1.222], "range": [597.5, 62.5], "nice": false, "zero": false}, "axis": null},
        "text": {"field": "t"}
      }
    }
  ],
  "resolve": {"scale": {"x": "independent", "y": "independent"}, "axis": {"x": "independent", "y": "independent"}}
}
